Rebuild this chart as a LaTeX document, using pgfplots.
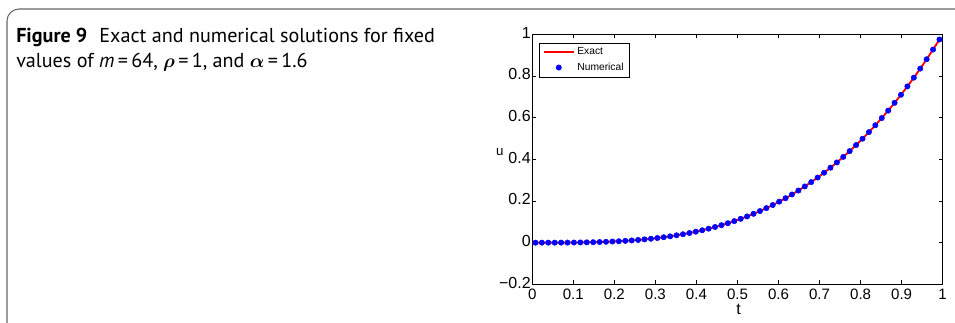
\documentclass[border=0pt]{standalone}
\usepackage{pgfplots}
\pgfplotsset{compat=1.18}
\usepackage{pgfplotstable}
\usepackage{bm}
\usepackage{fontspec}
\setmainfont{PT Sans}
\newfontfamily\helv{Liberation Sans}
\pgfplotstableread{
t u
0.0078125 0.0000002
0.0234375 0.0000061
0.0390625 0.0000312
0.0546875 0.0000914
0.0703125 0.000204
0.0859375 0.000388
0.1015625 0.000663
0.1171875 0.001048
0.1328125 0.001565
0.1484375 0.002233
0.1640625 0.003076
0.1796875 0.004117
0.1953125 0.005375
0.2109375 0.00687
0.2265625 0.00864
0.2421875 0.01069
0.2578125 0.01307
0.2734375 0.01577
0.2890625 0.01885
0.3046875 0.02230
0.3203125 0.02617
0.3359375 0.03048
0.3515625 0.03525
0.3671875 0.04051
0.3828125 0.04630
0.3984375 0.05263
0.4140625 0.05953
0.4296875 0.06702
0.4453125 0.07513
0.4609375 0.08390
0.4765625 0.09333
0.4921875 0.10349
0.5078125 0.11435
0.5234375 0.12600
0.5390625 0.13845
0.5546875 0.15171
0.5703125 0.16583
0.5859375 0.18074
0.6015625 0.19670
0.6171875 0.21342
0.6328125 0.23124
0.6484375 0.25003
0.6640625 0.26989
0.6796875 0.29070
0.6953125 0.31258
0.7109375 0.33561
0.7265625 0.35984
0.7421875 0.38513
0.7578125 0.41174
0.7734375 0.43952
0.7890625 0.46856
0.8046875 0.49888
0.8203125 0.53051
0.8359375 0.56361
0.8515625 0.59799
0.8671875 0.63379
0.8828125 0.67116
0.8984375 0.70985
0.9140625 0.75002
0.9296875 0.79192
0.9453125 0.83535
0.9609375 0.88038
0.9765625 0.92691
0.9921875 0.97521
}\numdata
\pgfplotstableread{
t u
0 0
0.0078125 0.0000002
0.0234375 0.0000061
0.0390625 0.0000312
0.0546875 0.0000914
0.0703125 0.000204
0.0859375 0.000388
0.1015625 0.000663
0.1171875 0.001048
0.1328125 0.001565
0.1484375 0.002233
0.1640625 0.003076
0.1796875 0.004117
0.1953125 0.005375
0.2109375 0.00687
0.2265625 0.00864
0.2421875 0.01069
0.2578125 0.01307
0.2734375 0.01577
0.2890625 0.01885
0.3046875 0.02230
0.3203125 0.02617
0.3359375 0.03048
0.3515625 0.03525
0.3671875 0.04051
0.3828125 0.04630
0.3984375 0.05263
0.4140625 0.05953
0.4296875 0.06702
0.4453125 0.07513
0.4609375 0.08390
0.4765625 0.09333
0.4921875 0.10349
0.5078125 0.11435
0.5234375 0.12600
0.5390625 0.13845
0.5546875 0.15171
0.5703125 0.16583
0.5859375 0.18074
0.6015625 0.19670
0.6171875 0.21342
0.6328125 0.23124
0.6484375 0.25003
0.6640625 0.26989
0.6796875 0.29070
0.6953125 0.31258
0.7109375 0.33561
0.7265625 0.35984
0.7421875 0.38513
0.7578125 0.41174
0.7734375 0.43952
0.7890625 0.46856
0.8046875 0.49888
0.8203125 0.53051
0.8359375 0.56361
0.8515625 0.59799
0.8671875 0.63379
0.8828125 0.67116
0.8984375 0.70985
0.9140625 0.75002
0.9296875 0.79192
0.9453125 0.83535
0.9609375 0.88038
0.9765625 0.92691
0.9921875 0.97521
}\exactdata
\begin{document}
\begin{tikzpicture}
\useasboundingbox (0pt,0pt) rectangle (716.25pt,242.25pt);
\begin{scope}
\clip (0pt,0pt) rectangle (716.25pt,242.25pt);
\draw[line width=0.8pt, color=black!60, rounded corners=9pt] (5.25pt,-30pt) -- (5.25pt,235.5pt) -- (740pt,235.5pt);
\end{scope}
\node[anchor=base west, inner sep=0pt, font=\fontsize{15.1}{17}\selectfont] at (12pt,210pt)
  {\textbf{Figure 9}\hspace{0.6em}Exact and numerical solutions for fixed};
\node[anchor=base west, inner sep=0pt, font=\fontsize{15.1}{17}\selectfont] at (12pt,191.25pt)
  {values of \textit{m}\,=\,64, $\bm{\rho}$\,=\,1, and $\bm{\alpha}$\,=\,1.6};
\begin{axis}[
  at={(399.2pt,29pt)}, anchor=south west,
  scale only axis, width=307.8pt, height=187.5pt,
  xmin=0, xmax=1, ymin=-0.2, ymax=1,
  xtick={0,0.1,0.2,0.3,0.4,0.5,0.6,0.7,0.8,0.9,1},
  xticklabels={0,0.1,0.2,0.3,0.4,0.5,0.6,0.7,0.8,0.9,1},
  ytick={-0.2,0,0.2,0.4,0.6,0.8,1},
  yticklabels={−0.2,0,0.2,0.4,0.6,0.8,1},
  xtick pos=both, ytick pos=both, tick align=inside,
  major tick length=3pt,
  tick style={black, line width=0.5pt},
  axis line style={line width=0.8pt},
  xticklabel style={font=\helv\fontsize{11.3}{12}\selectfont, inner sep=1pt, yshift=-2.3pt},
  yticklabel style={font=\helv\fontsize{12}{12}\selectfont, inner sep=1pt, yshift=1.2pt},
  legend image code/.code={\draw[mark repeat=2,mark phase=2,#1] plot coordinates {(0pt,0pt) (11.25pt,0pt) (22.5pt,0pt)};},
  legend style={at={(axis description cs:0.017,0.966)}, anchor=north west,
    font=\helv\fontsize{7.7}{9}\selectfont, inner xsep=2.5pt, inner ysep=1.5pt, row sep=0.5pt},
  legend cell align=left,
  clip=false,
]
\addplot[red, line width=1.4pt, no markers] table[x=t,y=u] {\exactdata};
\addlegendentry{Exact}
\addplot[only marks, mark=*, mark size=2pt, color=blue, mark options={draw=blue, fill=blue}]
  table[x=t,y=u] {\numdata};
\addlegendentry{Numerical}
\node[font=\helv\fontsize{10}{10}\selectfont] at (axis description cs:-0.079,0.53) {u};
\node[font=\helv\fontsize{12}{12}\selectfont, anchor=base] at (axis description cs:0.503,0) [yshift=-22.6pt] {t};
\end{axis}
\end{tikzpicture}
\end{document}
